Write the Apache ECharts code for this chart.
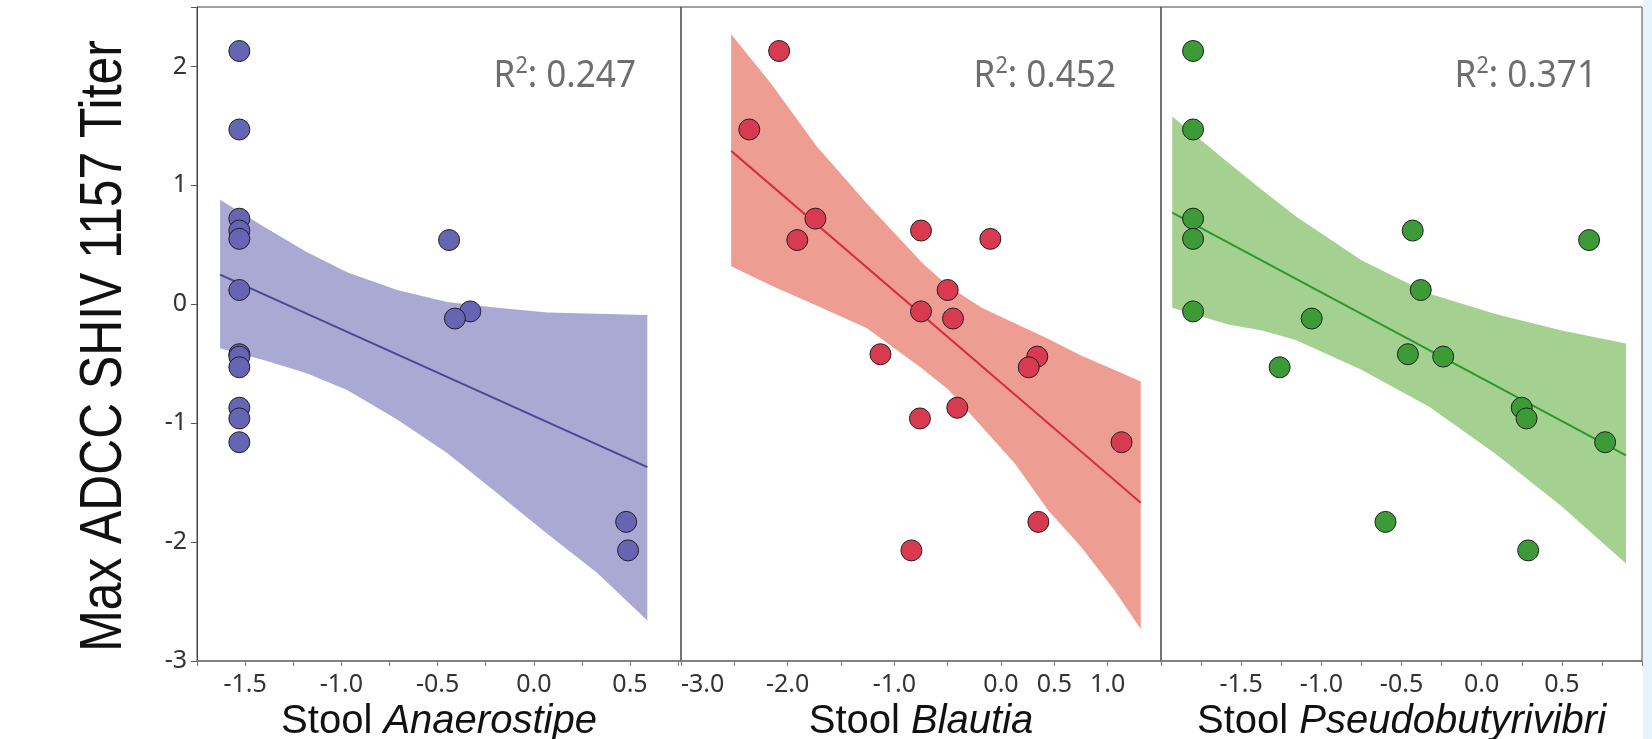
<!DOCTYPE html>
<html>
<head>
<meta charset="utf-8">
<title>Max ADCC SHIV 1157 Titer vs stool taxa</title>
<script src="https://cdn.jsdelivr.net/npm/echarts@6/dist/echarts.min.js"></script>
<style>
  html, body { margin: 0; padding: 0; background: #fff; }
  #chart { width: 1652px; height: 739px; }
</style>
</head>
<body>
<div id="chart"></div>
<script>
// y values shared by all three panels (one per animal)
const titer = [2.13, 1.47, 0.72, 0.62, 0.55, 0.54, 0.12, -0.06, -0.12, -0.42, -0.44, -0.53, -0.87, -0.96, -1.16, -1.83, -2.07];

// x values per panel, same animal order as titer
const anaerostipe = [-1.53, -1.53, -1.53, -1.53, -1.53, -0.44, -1.53, -0.33, -0.41, -1.53, -1.53, -1.53, -1.53, -1.53, -1.53, 0.48, 0.49];
const blautia = [-2.08, -2.36, -1.74, -0.75, -0.10, -1.91, -0.50, -0.75, -0.45, -1.13, 0.34, 0.26, -0.41, -0.76, 1.13, 0.35, -0.84];
const pseudobutyrivibri = [-1.80, -1.80, -1.80, -0.43, -1.80, 0.67, -0.38, -1.80, -1.06, -0.46, -0.24, -1.26, 0.25, 0.28, 0.77, -0.60, 0.29];

// fitted lines (end points) and confidence bands
const fit1X = [-1.63, 0.59], fit1Y = [0.25, -1.37];
const band1X = [-1.63, -1.40, -1.18, -0.97, -0.71, -0.45, -0.19, 0.07, 0.33, 0.59];
const band1Upper = [0.88, 0.65, 0.44, 0.27, 0.12, 0.02, -0.03, -0.07, -0.08, -0.09];
const band1Lower = [-0.37, -0.47, -0.58, -0.72, -0.97, -1.25, -1.59, -1.93, -2.26, -2.66];

const fit2X = [-2.53, 1.31], fit2Y = [1.29, -1.67];
const band2X = [-2.53, -2.16, -1.73, -1.26, -0.74, -0.49, -0.18, 0.13, 0.44, 0.75, 1.06, 1.31];
const band2Upper = [2.27, 1.86, 1.33, 0.85, 0.35, 0.15, -0.03, -0.16, -0.29, -0.43, -0.55, -0.65];
const band2Lower = [0.32, 0.16, -0.01, -0.20, -0.54, -0.72, -1.03, -1.34, -1.73, -2.04, -2.40, -2.73];

const fit3X = [-1.93, 0.90], fit3Y = [0.77, -1.27];
const band3X = [-1.93, -1.58, -1.37, -1.16, -0.75, -0.33, 0.08, 0.50, 0.90];
const band3Upper = [1.58, 1.19, 0.96, 0.74, 0.37, 0.09, -0.08, -0.22, -0.33];
const band3Lower = [-0.03, -0.17, -0.22, -0.30, -0.55, -0.86, -1.25, -1.70, -2.18];

const r2Values = ['0.247', '0.452', '0.371'];
const genus = ['Anaerostipe', 'Blautia', 'Pseudobutyrivibri'];

// tick labels that are printed
const titerTicks = ['-3', '-2', '-1', '0', '1', '2'];
const anaTicks = ['-1.5', '-1.0', '-0.5', '0.0', '0.5'];
const blaTicks = ['-3.0', '-2.0', '-1.0', '0.0', '0.5', '1.0'];
const pseTicks = ['-1.5', '-1.0', '-0.5', '0.0', '0.5'];

const panels = [
  { left: 197, width: 484, min: -1.75, max: 0.765, interval: 0.25, ticks: anaTicks, xs: anaerostipe,
    fitX: fit1X, fitY: fit1Y, bandX: band1X, up: band1Upper, lo: band1Lower,
    dot: '#6765b3', band: '#aaa9d4', line: '#4a4890' },
  { left: 681, width: 480, min: -3, max: 1.5, interval: 0.5, ticks: blaTicks, xs: blautia,
    fitX: fit2X, fitY: fit2Y, bandX: band2X, up: band2Upper, lo: band2Lower,
    dot: '#d83a50', band: '#ee9d93', line: '#d3303a' },
  { left: 1161, width: 481, min: -2, max: 1, interval: 0.25, ticks: pseTicks, xs: pseudobutyrivibri,
    fitX: fit3X, fitY: fit3Y, bandX: band3X, up: band3Upper, lo: band3Lower,
    dot: '#3d9b37', band: '#a4d18f', line: '#2e962e' }
];

const chart = echarts.init(document.getElementById('chart'));

const fmt = (list, digits) => (v) => {
  const s = (Math.round(v * 100) / 100).toFixed(digits);
  return list.includes(s) ? s : '';
};

const option = {
  backgroundColor: '#ffffff',
  animation: false,
  textStyle: { fontFamily: 'Noto Sans' },
  grid: panels.map((p) => ({
    left: p.left, top: 7, width: p.width, height: 654,
    outerBoundsMode: 'none', containLabel: false,
    show: true, borderColor: '#444', borderWidth: 1, backgroundColor: 'transparent'
  })),
  xAxis: panels.map((p, i) => ({
    type: 'value', gridIndex: i,
    min: p.min, max: p.max, interval: p.interval,
    splitLine: { show: false },
    axisLine: { show: true, onZero: false, lineStyle: { color: '#777', width: 1.5 } },
    axisTick: { show: true, length: 5, lineStyle: { color: '#777' } },
    axisLabel: {
      formatter: fmt(p.ticks, 1), color: '#333', fontSize: 25, margin: 11,
      fontFamily: 'Noto Sans', alignMinLabel: i === 1 ? 'left' : 'center'
    },
    name: '{n|Stool }{i|' + genus[i] + '}',
    nameLocation: 'middle', nameGap: 37,
    nameTextStyle: {
      rich: {
        n: { fontFamily: 'Liberation Sans', fontSize: 40, color: '#111' },
        i: { fontFamily: 'Liberation Sans', fontSize: 40, fontStyle: 'italic', color: '#111' }
      }
    }
  })),
  yAxis: panels.map((p, i) => ({
    type: 'value', gridIndex: i,
    min: -3, max: 2.5, interval: 1,
    splitLine: { show: false },
    axisLine: { show: i === 0, onZero: false, lineStyle: { color: '#444', width: 1 } },
    axisTick: { show: i === 0, length: 6, lineStyle: { color: '#555' } },
    axisLabel: {
      show: i === 0, formatter: fmt(titerTicks, 0), color: '#333', fontSize: 25, margin: 10,
      fontFamily: 'Noto Sans'
    }
  })),
  graphic: [
    {
      type: 'rect', left: 1643, top: 0, silent: true,
      shape: { width: 9, height: 739 }, style: { fill: '#e4f4fa' }
    },
    {
      type: 'text', x: 104, y: 346, rotation: Math.PI / 2, scaleX: 0.83, silent: true,
      style: {
        text: 'Max ADCC SHIV 1157 Titer', fontFamily: 'Liberation Sans', fontSize: 60,
        fill: '#111', align: 'center', verticalAlign: 'middle'
      }
    }
  ].concat(panels.map((p, i) => ({
    type: 'text', x: p.left + p.width - 45, y: 76, z: 10, scaleX: 0.9, silent: true,
    style: {
      text: '{r|R}{s|2}{r|: ' + r2Values[i] + '}',
      align: 'right', verticalAlign: 'middle',
      rich: {
        r: { fontFamily: 'Noto Sans', fontSize: 39, fill: '#6e6e6e', lineHeight: 44 },
        s: { fontFamily: 'Noto Sans', fontSize: 24, fill: '#6e6e6e', lineHeight: 30, verticalAlign: 'top' }
      }
    }
  }))),
  series: []
};

panels.forEach((p, i) => {
  // confidence band
  option.series.push({
    type: 'custom', xAxisIndex: i, yAxisIndex: i, z: 1, silent: true,
    data: [[p.bandX[0], p.up[0]]],
    renderItem: (params, api) => {
      const pts = p.bandX.map((x, k) => api.coord([x, p.up[k]]));
      for (let k = p.bandX.length - 1; k >= 0; k--) pts.push(api.coord([p.bandX[k], p.lo[k]]));
      return { type: 'polygon', shape: { points: pts }, style: { fill: p.band } };
    }
  });
  // regression line
  option.series.push({
    type: 'line', xAxisIndex: i, yAxisIndex: i, z: 2, silent: true,
    data: p.fitX.map((x, k) => [x, p.fitY[k]]),
    showSymbol: false, lineStyle: { color: p.line, width: 2 }
  });
  // points
  option.series.push({
    type: 'scatter', xAxisIndex: i, yAxisIndex: i, z: 3,
    data: p.xs.map((x, k) => [x, titer[k]]),
    symbolSize: 21,
    itemStyle: { color: p.dot, borderColor: '#1e1e1e', borderWidth: 1, opacity: 1 }
  });
});

chart.setOption(option);
window.addEventListener('resize', () => chart.resize());
</script>
</body>
</html>
